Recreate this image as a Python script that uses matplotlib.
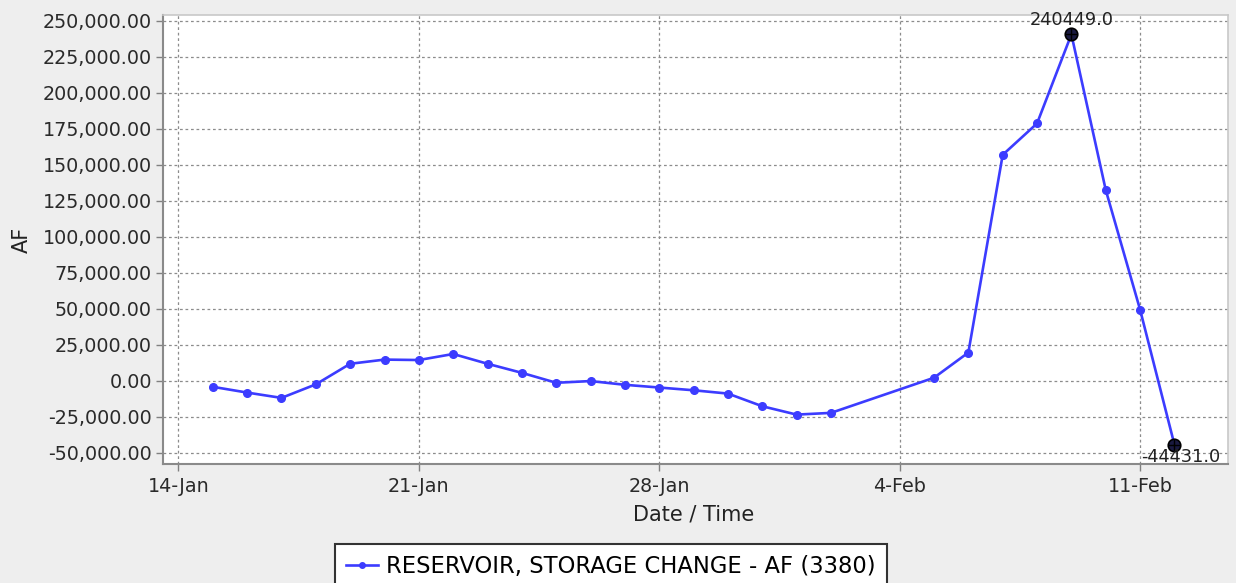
import datetime as dt
import matplotlib
matplotlib.use("Agg")
import matplotlib.pyplot as plt
import matplotlib.dates as mdates

# ---- data ----
dates = [dt.datetime(2017, 1, d) for d in range(15, 32)] + \
        [dt.datetime(2017, 2, d) for d in (1, 2, 5, 6, 7, 8, 9, 10, 11, 12)]
values = [-4300, -8300, -12000, -2600, 11700, 14600, 14300, 18500, 11700, 5400,
          -1500, -300, -2900, -4800, -6700, -9000, -17800, -23600, -22400,
          2000, 19500, 156800, 178600, 240449, 132400, 49300, -44431]
series_label = "RESERVOIR, STORAGE CHANGE - AF (3380)"
xtick_dates = [dt.datetime(2017, 1, 14), dt.datetime(2017, 1, 21), dt.datetime(2017, 1, 28),
               dt.datetime(2017, 2, 4), dt.datetime(2017, 2, 11)]
xtick_labels = ["14-Jan", "21-Jan", "28-Jan", "4-Feb", "11-Feb"]
yticks = list(range(-50000, 250001, 25000))
ylabel = "AF"
xlabel = "Date / Time"

W, H = 1236, 583
fig = plt.figure(figsize=(W / 100, H / 100), dpi=100, facecolor="#eeeeee")
ax = fig.add_axes([163 / W, 1 - 464 / H, (1228 - 163) / W, (464 - 15) / H])
ax.set_facecolor("white")

line_color = "#3c3cff"
ax.plot(dates, values, color=line_color, lw=1.9, marker="o", ms=5.5,
        mec=line_color, mfc=line_color, label=series_label, zorder=3)

# highlight max / min
imax = values.index(max(values))
imin = values.index(min(values))
for i in (imax, imin):
    ax.plot([dates[i]], [values[i]], marker="o", ms=9, mfc="#1a1a40", mec="black",
            mew=1.2, zorder=4)
    ax.plot([dates[i]], [values[i]], marker="+", ms=9, mec="black", mew=1.0, zorder=5)
ax.annotate(f"{values[imax]:.1f}", (dates[imax], values[imax]), xytext=(0, 5),
            textcoords="offset pixels", ha="center", va="bottom", fontsize=12.8,
            color="#222222", zorder=6)
ax.annotate(f"{values[imin]:.1f}", (dates[imin], values[imin]), xytext=(6, -3),
            textcoords="offset pixels", ha="center", va="top", fontsize=12.8,
            color="#222222", zorder=6, annotation_clip=False)

x0 = mdates.date2num(dt.datetime(2017, 1, 14)) - 0.45
x1 = mdates.date2num(dt.datetime(2017, 2, 11)) + 2.56
ax.set_xlim(x0, x1)
ax.set_ylim(-57900, 253900)

ax.set_xticks(xtick_dates)
ax.set_xticklabels(xtick_labels)
ax.set_yticks(yticks)
ax.set_yticklabels([f"{v:,.2f}" for v in yticks])
ax.tick_params(axis="both", labelsize=13.8, colors="#808080", labelcolor="#2a2a2a",
               direction="out", length=5, width=1)
ax.tick_params(axis="x", pad=4)
ax.tick_params(axis="y", pad=3)

ax.grid(True, color="#8c8c8c", linestyle=(0, (2.2, 2.2)), linewidth=0.9)
ax.set_axisbelow(True)
for side in ("left", "bottom"):
    ax.spines[side].set_color("#8a8a8a")
    ax.spines[side].set_linewidth(1.5)
for side in ("top", "right"):
    ax.spines[side].set_color("#c8c8c8")
    ax.spines[side].set_linewidth(1.2)

ax.set_ylabel(ylabel, fontsize=15, color="#222222")
ax.yaxis.set_label_coords((32 - 163) / (1228 - 163), 0.5)
fig.text(694 / W, 1 - 515 / H, xlabel, ha="center", va="center", fontsize=15,
         color="#222222")

leg = fig.legend(loc="upper left", bbox_to_anchor=(335 / W, 1 - 544 / H),
                 fontsize=16.3, frameon=True, fancybox=False, framealpha=1,
                 edgecolor="#333333", borderpad=0.5, handlelength=1.4,
                 handletextpad=0.35, borderaxespad=0)
leg.get_frame().set_linewidth(1.5)
for h in leg.legend_handles:
    h.set_markersize(4)

fig.savefig("out.png", dpi=100, facecolor=fig.get_facecolor())
